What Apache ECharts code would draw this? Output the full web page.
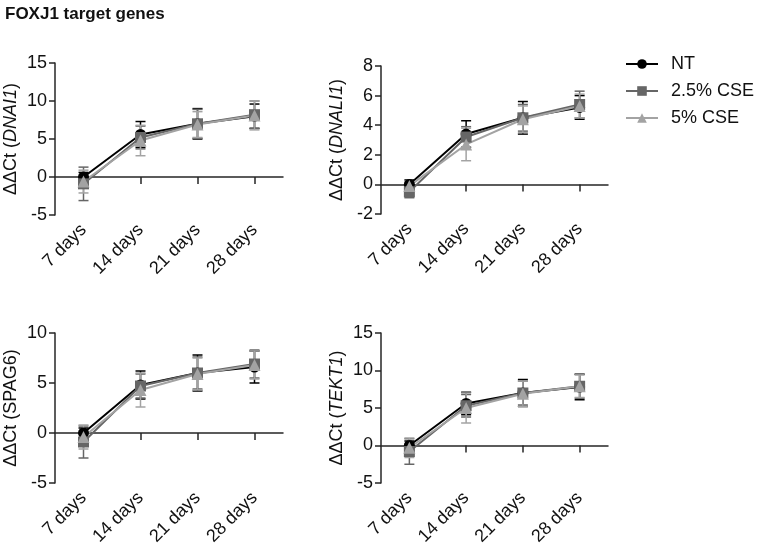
<!DOCTYPE html>
<html><head><meta charset="utf-8">
<script src="https://cdn.jsdelivr.net/npm/echarts@6/dist/echarts.min.js"></script>
<style>html,body{margin:0;padding:0;background:#fff}#c{width:759px;height:553px}</style>
</head><body><div id="c"></div>
<script>
const categories = ['7 days', '14 days', '21 days', '28 days'];
const seriesNames = ['NT', '2.5% CSE', '5% CSE'];

// DNAI1
const dnai1_NT = [0.0, 5.6, 7.0, 8.0];
const dnai1_NT_sd = [0.6, 1.7, 2.0, 1.6];
const dnai1_25 = [-0.9, 5.2, 7.0, 8.2];
const dnai1_25_sd = [2.2, 1.5, 1.9, 1.8];
const dnai1_5 = [-0.6, 4.8, 6.9, 8.1];
const dnai1_5_sd = [1.5, 2.0, 1.7, 1.9];
// DNALI1
const dnali1_NT = [0.0, 3.4, 4.5, 5.2];
const dnali1_NT_sd = [0.3, 0.9, 1.1, 0.8];
const dnali1_25 = [-0.5, 3.2, 4.5, 5.4];
const dnali1_25_sd = [0.4, 0.7, 0.9, 0.9];
const dnali1_5 = [-0.1, 2.7, 4.4, 5.3];
const dnali1_5_sd = [0.3, 1.1, 0.9, 0.8];
// SPAG6
const spag6_NT = [0.0, 4.8, 6.0, 6.6];
const spag6_NT_sd = [0.5, 1.4, 1.8, 1.6];
const spag6_25 = [-0.9, 4.7, 6.0, 6.9];
const spag6_25_sd = [1.6, 1.2, 1.6, 1.4];
const spag6_5 = [-0.4, 4.3, 5.9, 6.8];
const spag6_5_sd = [1.2, 1.7, 1.6, 1.4];
// TEKT1
const tekt1_NT = [0.0, 5.6, 7.0, 7.8];
const tekt1_NT_sd = [0.6, 1.5, 1.8, 1.7];
const tekt1_25 = [-0.8, 5.3, 7.0, 7.9];
const tekt1_25_sd = [1.7, 1.5, 1.6, 1.6];
const tekt1_5 = [-0.3, 5.0, 6.9, 7.9];
const tekt1_5_sd = [1.3, 2.0, 1.7, 1.5];

const yTicksDNAI1 = {min: -5, max: 15, interval: 5};
const yTicksDNALI1 = {min: -2, max: 8, interval: 2};
const yTicksSPAG6 = {min: -5, max: 10, interval: 5};
const yTicksTEKT1 = {min: -5, max: 15, interval: 5};

const panels = [
  {gene: 'DNAI1', italic: true, y: yTicksDNAI1, box: {left: 55, top: 63, width: 228, height: 152},
   means: [dnai1_NT, dnai1_25, dnai1_5], sds: [dnai1_NT_sd, dnai1_25_sd, dnai1_5_sd]},
  {gene: 'DNALI1', italic: true, y: yTicksDNALI1, box: {left: 381, top: 66, width: 227, height: 148},
   means: [dnali1_NT, dnali1_25, dnali1_5], sds: [dnali1_NT_sd, dnali1_25_sd, dnali1_5_sd]},
  {gene: 'SPAG6', italic: false, y: yTicksSPAG6, box: {left: 55, top: 333, width: 228, height: 150},
   means: [spag6_NT, spag6_25, spag6_5], sds: [spag6_NT_sd, spag6_25_sd, spag6_5_sd]},
  {gene: 'TEKT1', italic: true, y: yTicksTEKT1, box: {left: 381, top: 333, width: 227, height: 150},
   means: [tekt1_NT, tekt1_25, tekt1_5], sds: [tekt1_NT_sd, tekt1_25_sd, tekt1_5_sd]}
];

const colors = ['#000000', '#666666', '#a3a3a3'];
const symbols = ['circle', 'rect', 'triangle'];
const symbolSizes = [11, 11, 12];
const FONT = '"Liberation Sans", Arial, Helvetica, sans-serif';
const AX = '#262626';

const grid = [], xAxis = [], yAxis = [], series = [];

function makeErr(color) {
  return function (params, api) {
    const x = api.value(0), lo = api.value(1), hi = api.value(2);
    const a = api.coord([x, lo]), b = api.coord([x, hi]);
    const w = 5;
    const st = {stroke: color, lineWidth: 1.5};
    return {type: 'group', children: [
      {type: 'line', shape: {x1: a[0], y1: a[1], x2: b[0], y2: b[1]}, style: st},
      {type: 'line', shape: {x1: a[0] - w, y1: a[1], x2: a[0] + w, y2: a[1]}, style: st},
      {type: 'line', shape: {x1: b[0] - w, y1: b[1], x2: b[0] + w, y2: b[1]}, style: st}
    ]};
  };
}

panels.forEach((p, gi) => {
  grid.push(Object.assign({containLabel: false}, p.box));
  const xLab = xAxis.length;
  xAxis.push({
    type: 'category', gridIndex: gi, data: categories, position: 'bottom',
    axisLine: {show: false, onZero: false}, axisTick: {show: false},
    axisLabel: {rotate: 45, fontSize: 18, color: '#111', fontFamily: FONT, margin: 12, interval: 0}
  });
  xAxis.push({
    type: 'category', gridIndex: gi, data: categories, position: 'top',
    axisLine: {show: true, onZero: true, lineStyle: {color: AX, width: 1.5}},
    axisTick: {show: true, inside: true, alignWithLabel: true, length: 7, lineStyle: {color: AX, width: 1.5}},
    axisLabel: {show: false}
  });
  const nameText = p.italic
    ? '{n|ΔΔCt (}{i|' + p.gene + '}{n|)}'
    : '{n|ΔΔCt (' + p.gene + ')}';
  yAxis.push({
    type: 'value', gridIndex: gi, min: p.y.min, max: p.y.max, interval: p.y.interval,
    name: nameText, nameLocation: 'middle', nameGap: 35, nameRotate: 90,
    nameTextStyle: {rich: {
      n: {fontSize: 18, color: '#111', fontFamily: FONT},
      i: {fontSize: 18, color: '#111', fontFamily: FONT, fontStyle: 'italic'}
    }},
    splitLine: {show: false},
    axisLine: {show: true, lineStyle: {color: AX, width: 1.5}},
    axisTick: {show: true, length: 6, lineStyle: {color: AX, width: 1.5}},
    axisLabel: {fontSize: 18, color: '#111', fontFamily: FONT, margin: 8}
  });
  p.means.forEach((m, si) => {
    const sd = p.sds[si];
    series.push({
      type: 'custom', name: seriesNames[si] + ' err', xAxisIndex: xLab, yAxisIndex: gi,
      renderItem: makeErr(colors[si]),
      data: m.map((v, i) => [i, v - sd[i], v + sd[i]]),
      z: 2, silent: true
    });
  });
  p.means.forEach((m, si) => {
    series.push({
      type: 'line', name: seriesNames[si], xAxisIndex: xLab, yAxisIndex: gi,
      data: m, symbol: symbols[si], symbolSize: symbolSizes[si],
      lineStyle: {color: colors[si], width: 2}, itemStyle: {color: colors[si]},
      z: 3, animation: false
    });
  });
});

const chart = echarts.init(document.getElementById('c'), null, {renderer: 'canvas'});
chart.setOption({
  animation: false,
  backgroundColor: '#fff',
  title: {text: 'FOXJ1 target genes', left: 0, top: 1,
    textStyle: {fontSize: 17, fontWeight: 'bold', color: '#111', fontFamily: FONT}},
  legend: {
    data: seriesNames, orient: 'vertical', left: 620, top: 50, itemWidth: 32, itemHeight: 12, itemGap: 9,
    textStyle: {fontSize: 18, color: '#111', fontFamily: FONT, padding: [0, 0, 0, 8]}
  },
  grid, xAxis, yAxis, series
});
</script></body></html>
